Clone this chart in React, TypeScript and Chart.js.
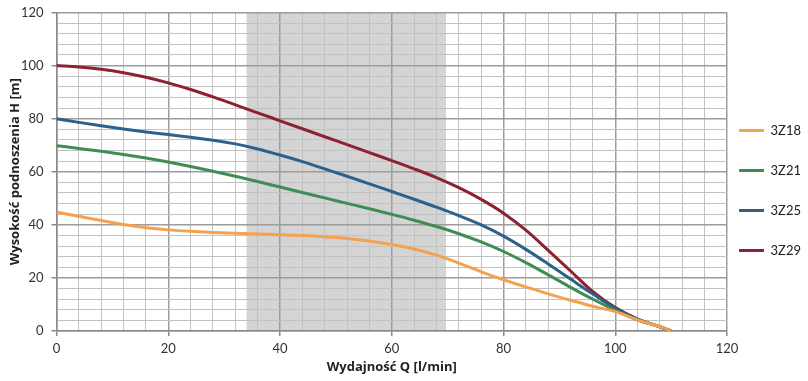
import React, { useEffect, useRef } from 'react';
import { Chart, registerables } from 'chart.js';

Chart.register(...registerables);

// Flow Q [l/min]
const flowQ = [0, 4, 8, 12, 16, 20, 24, 28, 32, 36, 40, 44, 48, 52, 56, 60, 64, 68, 72, 76, 80, 84, 88, 92, 96, 100, 104, 108, 110];

// Head H [m] per pump
const head3Z18 = [44.8, 43.2, 41.6, 40.1, 38.9, 38.1, 37.55, 37.15, 36.85, 36.55, 36.25, 35.95, 35.5, 34.85, 33.9, 32.6, 30.9, 28.6, 25.6, 22.3, 19.3, 16.6, 14, 11.6, 9.3, 7.3, 4.2, 1.6, 0];
const head3Z21 = [69.8, 68.8, 67.7, 66.5, 65.15, 63.65, 62, 60.2, 58.3, 56.3, 54.25, 52.2, 50.15, 48.1, 46.05, 43.95, 41.75, 39.35, 36.65, 33.55, 29.95, 25.75, 21.15, 16.45, 11.95, 7.75, 4.15, 1.55, 0];
const head3Z25 = [80, 78.6, 77.3, 76.1, 75, 74, 73, 71.9, 70.5, 68.6, 66.3, 63.8, 61.1, 58.3, 55.45, 52.55, 49.65, 46.65, 43.45, 39.95, 35.75, 30.75, 25.25, 19.55, 13.9, 8.5, 4.5, 1.6, 0];
const head3Z29 = [100, 99.5, 98.6, 97.3, 95.6, 93.5, 91, 88.2, 85.2, 82.2, 79.2, 76.2, 73.2, 70.2, 67.2, 64.2, 61.1, 57.8, 54, 49.6, 44.4, 38, 30.4, 22.6, 14.8, 8.8, 4.5, 1.6, 0];

const seriesLabels = ['3Z18', '3Z21', '3Z25', '3Z29'];
const seriesValues = [head3Z18, head3Z21, head3Z25, head3Z29];
const seriesColors = ['#f4a24f', '#3f8d52', '#2d618b', '#8d2233'];

// Shaded operating range on Q axis
const shadeFrom = 34;
const shadeTo = 69.7;

const axisMin = 0;
const axisMax = 120;
const gridStep = 4;
const labelStep = 20;

const xTitle = 'Wydajność Q [l/min]';
const yTitle = 'Wysokość podnoszenia H [m]';

const TICK_FONT = 'Lato, "Open Sans", sans-serif';
const TITLE_FONT = '"Open Sans", Lato, sans-serif';

const shadeBand = {
  id: 'shadeBand',
  beforeDraw(chart: any) {
    const { ctx, chartArea, scales } = chart;
    const x = scales.x;
    const x0 = x.getPixelForValue(shadeFrom);
    const x1 = x.getPixelForValue(shadeTo);
    ctx.save();
    ctx.fillStyle = '#d4d4d4';
    ctx.fillRect(x0, chartArea.top, x1 - x0, chartArea.bottom - chartArea.top);
    ctx.restore();
  },
};

const isMajor = (v: number) => Math.abs(v % labelStep) < 1e-6;

const gridOpts = {
  color: (c: any) => (c.tick && isMajor(c.tick.value) ? '#9c9c9c' : '#c2c2c2'),
  lineWidth: (c: any) => (c.tick && isMajor(c.tick.value) ? 1.5 : 1),
  tickColor: (c: any) => (c.tick && isMajor(c.tick.value) ? '#8a8a8a' : 'rgba(0,0,0,0)'),
  tickLength: 5,
  drawTicks: true,
};

export default function App() {
  const ref = useRef<HTMLCanvasElement>(null);
  useEffect(() => {
    if (!ref.current) return;
    const datasets = seriesLabels.map((label, i) => ({
      label,
      data: flowQ.map((q, j) => ({ x: q, y: seriesValues[i][j] })),
      borderColor: seriesColors[i],
      backgroundColor: seriesColors[i],
      borderWidth: 3,
      pointRadius: 0,
      fill: false,
      cubicInterpolationMode: 'monotone' as const,
    }));
    const chart = new Chart(ref.current, {
      type: 'line',
      data: { datasets },
      plugins: [shadeBand],
      options: {
        responsive: false,
        animation: false,
        devicePixelRatio: 1,
        layout: { padding: { top: 0, left: 0, right: -3, bottom: 0 } },
        plugins: {
          tooltip: { enabled: false },
          legend: {
            position: 'right',
            align: 'center',
            title: { display: true, text: ' ', font: { size: 10, lineHeight: '13px' }, padding: 1 },
            labels: {
              boxWidth: 25,
              boxHeight: 3,
              padding: 12,
              color: '#222',
              font: { family: TICK_FONT, size: 13, lineHeight: '28px' },
              generateLabels: (chart: any) =>
                (Chart.defaults.plugins.legend.labels.generateLabels as any)(chart).map((l: any) => ({
                  ...l,
                  text: [l.text],
                  lineWidth: 0,
                })),
            },
          },
        },
        scales: {
          x: {
            type: 'linear',
            min: axisMin,
            max: axisMax,
            afterFit: (s: any) => {
              s.height = 50;
            },
            ticks: {
              stepSize: gridStep,
              autoSkip: false,
              maxRotation: 0,
              padding: 5,
              color: '#333',
              font: { family: TICK_FONT, size: 13 },
              callback: (v: any) => (isMajor(Number(v)) ? String(v) : ''),
            },
            grid: gridOpts,
            border: { color: '#8a8a8a', width: 1.5 },
            title: {
              display: true,
              text: xTitle,
              color: '#222',
              font: { family: TITLE_FONT, size: 13, weight: 'bold' },
              padding: { top: 3, bottom: 6 },
            },
          },
          y: {
            type: 'linear',
            min: axisMin,
            max: axisMax,
            afterFit: (s: any) => {
              s.width = 56.5;
              s.paddingTop = 12.5;
            },
            ticks: {
              stepSize: gridStep,
              autoSkip: false,
              padding: 8,
              color: '#333',
              font: { family: TICK_FONT, size: 13 },
              callback: (v: any) => (isMajor(Number(v)) ? String(v) : ''),
            },
            grid: gridOpts,
            border: { color: '#8a8a8a', width: 1.5 },
            title: {
              display: true,
              text: yTitle,
              color: '#222',
              font: { family: TITLE_FONT, size: 13, weight: 'bold' },
              padding: { top: 7, bottom: 0 },
            },
          },
        },
      } as any,
    });
    return () => chart.destroy();
  }, []);
  return (
    <div style={{ position: 'fixed', left: 0, top: 0, width: 808, height: 381, background: '#fff' }}>
      <canvas ref={ref} width={808} height={381} style={{ display: 'block' }} />
    </div>
  );
}
